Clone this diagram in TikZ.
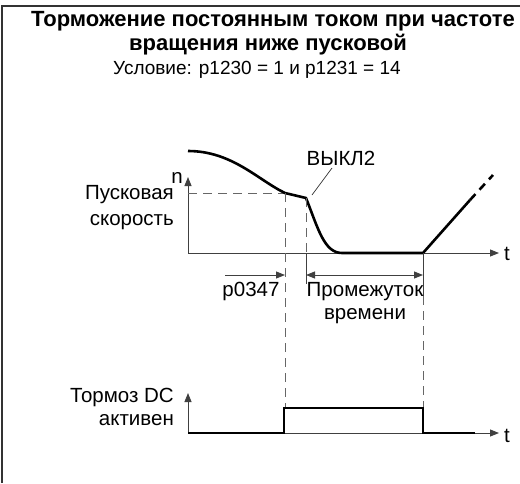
\documentclass[tikz,border=0pt]{standalone}
\usepackage{fontspec}
\setmainfont{Liberation Sans}
\usepackage{tikz}
\usetikzlibrary{positioning,arrows.meta}

\begin{document}
\begin{tikzpicture}[
    x=1pt, y=-1pt, >={Triangle[length=9pt,width=7pt]},
    every node/.style={font=\fontsize{20.5}{26}\selectfont, inner sep=0pt},
    ttl/.style={font=\fontsize{22}{24}\selectfont\bfseries},
    axis/.style={->, draw=black!75, line width=0.9pt},
    sig/.style={draw=black, line width=2.6pt},
    guide/.style={draw=black!60, line width=0.9pt, dash pattern=on 9pt off 6pt},
    ext/.style={draw=black!75, line width=0.9pt},
    dim/.style={draw=black!75, line width=0.9pt}
  ]
  \useasboundingbox (0,0) rectangle (520,483);
  % frame (top and left only)
  \draw[black!80, line width=1.2pt] (2,483) -- (2,6) -- (520,6);

  % headings
  \node[ttl] (title1) at (273,21) {Торможение постоянным током при частоте};
  \node[ttl] (title2) at (268,45) {вращения ниже пусковой};
  \node[font=\fontsize{19}{24}\selectfont] (cond) at (257,70) {Условие: p1230 = 1 и p1231 = 14};

  % upper diagram: speed
  \coordinate (o1) at (188,253);
  \coordinate (ny) at (188,177);
  \coordinate (tx) at (499,253);
  \draw[axis] (o1) -- (ny);
  \draw[axis] (o1) -- (tx);
  \node[anchor=east] (nlab) at (183,178) {n};
  \node[anchor=west] (t1)   at (504,254) {t};

  \coordinate (pstart) at (188,193);
  \coordinate (kink1)  at (285,193);
  \coordinate (kink2)  at (306,198);
  \coordinate (low1)   at (342,253);
  \coordinate (low2)   at (423,253);
  \coordinate (rise)   at (470,200);
  \coordinate (riseend) at (493,175);

  \draw[guide] (pstart) -- (kink1);
  \draw[sig, line join=round] (188,151) .. controls (232,151) and (258,180) .. (kink1)
      -- (kink2) .. controls (318,228) and (324,253) .. (low1) -- (low2) -- (rise);
  \draw[sig, dash pattern=on 8pt off 6pt] (rise) -- (riseend);

  \node[anchor=east, align=right] (vstart) at (174,208) {Пусковая\\скорость};
  \node (off2) at (341,158) {ВЫКЛ2};
  \draw[black!80, line width=0.7pt] (312,195) -- (332,168);

  % guide lines down to the lower diagram
  \coordinate (d1) at (285,408);
  \coordinate (e2) at (306,284);
  \coordinate (e3) at (423,296);
  \draw[guide] (kink1) -- (d1);
  \draw[guide] (kink2) -- (306,253);
  \draw[ext] (306,253) -- (e2);
  \draw[ext] (low2) -- (e3);
  \draw[guide] (e3) -- (423,408);

  % time spans
  \coordinate (p0) at (225,275);
  \draw[dim, ->] (p0) -- (285,275);
  \node (plab) at (251,291) {p0347};
  \draw[dim, <->] (306,275) -- (423,275);
  \node[align=center, font=\fontsize{20.5}{23}\selectfont] (span) at (365,303) {Промежуток\\времени};

  % lower diagram: DC braking
  \coordinate (o2) at (188,433);
  \draw[axis] (o2) -- (188,393);
  \draw[axis] (o2) -- (499,433);
  \node[anchor=west] (t2) at (504,436) {t};
  \node[anchor=east, align=right, font=\fontsize{20.5}{23}\selectfont] (dcb) at (174,407) {Тормоз DC\\активен};
  \draw[sig, line join=miter] (o2) -- (284,433) -- (284,408) -- (423,408)
      -- (423,433) -- (475,433);
\end{tikzpicture}
\end{document}
